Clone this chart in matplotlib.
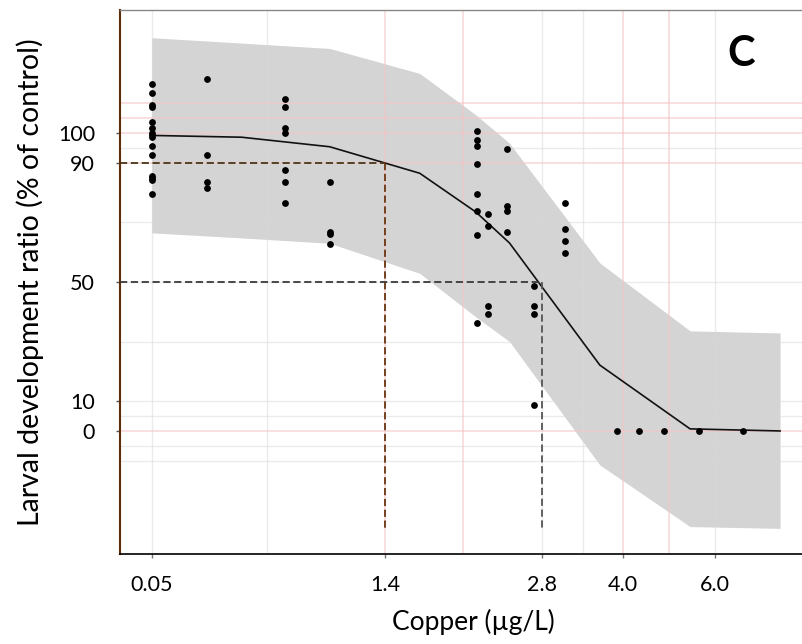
import numpy as np
import matplotlib
matplotlib.use("Agg")
import matplotlib.pyplot as plt

plt.rcParams['font.family'] = ['Lato', 'DejaVu Sans']

# fitted curve and confidence band (copper ug/L, % of control)
conc_fit = [0.05, 0.57, 1.08, 1.71, 2.21, 2.51, 3.66, 5.46, 7.41]
fit = [99.2, 98.6, 95.4, 86.5, 73.5, 63.1, 22.1, 0.7, 0.0]
upper = [132.0, 130.2, 128.4, 120.0, 106.1, 96.6, 56.4, 33.6, 32.9]
lower = [66.5, 64.8, 63.0, 52.9, 38.3, 30.0, -11.4, -32.1, -32.7]

# observations per concentration
obs = {
    0.05: [116.6, 113.5, 109.4, 108.8, 103.8, 101.8, 99.9, 99.3, 98.8,
           95.6, 92.6, 85.7, 84.8, 84.2, 79.5],
    0.37: [118.2, 92.6, 83.7, 81.6],
    0.82: [111.5, 108.8, 101.8, 99.9, 87.6, 83.6, 76.5],
    1.08: [83.6, 66.9, 66.0, 62.8],
    2.22: [100.7, 97.7, 95.6, 89.6, 79.5, 73.8, 65.8, 36.1],
    2.32: [72.9, 68.8, 41.9, 39.2],
    2.49: [94.6, 75.6, 73.8, 66.8],
    2.73: [48.8, 41.9, 39.2, 8.8],
    3.14: [76.5, 67.8, 63.9, 59.8],
    3.92: [0.0],
    4.35: [0.0],
    4.90: [0.0],
    5.65: [0.0],
    6.61: [0.0],
}

ec10, ec50 = 1.4, 2.8
xticks = [0.05, 1.4, 2.8, 4.0, 6.0]
yticks = [0, 10, 50, 90, 100]

# the axis is not linear: piecewise scale through the labelled ticks
knot_c = np.array([-1.0, 0.05, 1.4, 2.8, 4.0, 6.0, 10.0])
knot_p = np.array([-29.9, 151.6, 385.0, 542.0, 622.7, 715.0, 899.6])


def fwd(x):
    return np.interp(x, knot_c, knot_p)


def inv(p):
    return np.interp(p, knot_p, knot_c)


fig = plt.figure(figsize=(8.03, 6.44), dpi=100)
ax = fig.add_axes([120 / 803, 90 / 644, 683 / 803, 544 / 644])
ax.set_xscale('function', functions=(fwd, inv))
ax.set_xlim(inv(120), inv(803))
ax.set_ylim(-41.3, 141.3)

# light grid lines, gray and pink, faintly visible through the band
for y in [95, 70, 50, 30, 10, 5, -5, -10]:
    ax.axhline(y, color='#d8d8d8', lw=1, alpha=0.5, zorder=2)
for y in [110, 105, 100, 90, 0]:
    ax.axhline(y, color='#f5c4c4', lw=1.1, alpha=0.7, zorder=2)
for x in [0.05, 0.72, 2.8, 3.41, 6.0]:
    ax.axvline(x, color='#d8d8d8', lw=1, alpha=0.5, zorder=2)
for x in [1.4, 2.1, 4.0, 5.0]:
    ax.axvline(x, color='#f5c4c4', lw=1.1, alpha=0.7, zorder=2)

ax.fill_between(conc_fit, lower, upper, color='#d4d4d4', lw=0, zorder=1)
ax.plot(conc_fit, fit, color='#111111', lw=1.2, zorder=3)

for c, vals in obs.items():
    ax.scatter([c] * len(vals), vals, s=24, color='black', lw=0, zorder=4)

# EC10 / EC50 guides
xl = ax.get_xlim()[0]
ax.plot([xl, ec10], [90, 90], color='#4a3618', lw=1.3, ls=(0, (4, 2)), zorder=3)
ax.plot([ec10, ec10], [90, -32.6], color='#6b3510', lw=1.3, ls=(0, (4, 2)), zorder=3)
ax.plot([xl, ec50], [50, 50], color='#3a3a3a', lw=1.3, ls=(0, (4, 2)), zorder=3)
ax.plot([ec50, ec50], [50, -32.6], color='#555555', lw=1.3, ls=(0, (4, 2)), zorder=3)

ax.set_xticks(xticks)
ax.set_xticklabels(['0.05', '1.4', '2.8', '4.0', '6.0'])
ax.set_yticks(yticks)
ax.tick_params(axis='x', length=3, width=1, color='#777777', pad=12, labelsize=15.5)
ax.tick_params(axis='y', length=3, width=1, color='#555555', pad=15, labelsize=15.5)
ax.minorticks_off()

ax.spines['left'].set_color('#5c2e0a')
ax.spines['left'].set_linewidth(1.5)
ax.spines['bottom'].set_color('black')
ax.spines['bottom'].set_linewidth(1.2)
ax.spines['top'].set_color('#888888')
ax.spines['top'].set_linewidth(1.0)
ax.spines['right'].set_visible(False)

ax.set_xlabel('Copper (\u00b5g/L)', fontsize=19)
ax.xaxis.set_label_coords(0.518, -0.100)
ax.set_ylabel('Larval development ratio (% of control)', fontsize=20.5, labelpad=10)

fig.text(741 / 803, 1 - 54 / 644, 'C', fontsize=30, fontweight='bold',
         ha='center', va='center')

fig.savefig('out.png', dpi=100)
